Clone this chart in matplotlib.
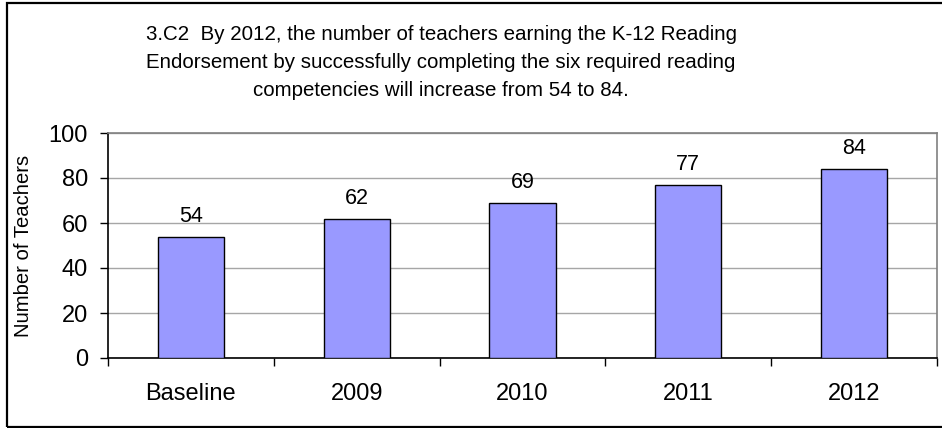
import matplotlib
matplotlib.use("Agg")
import matplotlib.pyplot as plt
from matplotlib.patches import Rectangle
from matplotlib.ticker import FixedLocator

categories = ["Baseline", "2009", "2010", "2011", "2012"]
teachers = [54, 62, 69, 77, 84]
y_ticks = [0, 20, 40, 60, 80, 100]
title_lines = [
    "3.C2  By 2012, the number of teachers earning the K-12 Reading",
    "Endorsement by successfully completing the six required reading",
    "competencies will increase from 54 to 84.",
]
y_label = "Number of Teachers"

plt.rcParams["font.family"] = ["Liberation Sans", "DejaVu Sans"]

W, H, DPI = 942, 428, 100
fig = plt.figure(figsize=(W / DPI, H / DPI), dpi=DPI)

# outer chart frame (its right edge runs past the canvas)
fig.patches.append(Rectangle((7 / W, 1 - 427 / H), 960 / W, (427 - 3) / H,
                             transform=fig.transFigure, fill=False,
                             edgecolor="black", linewidth=1.6, clip_on=False))

ax = fig.add_axes([108 / W, 1 - 358 / H, 829 / W, 225 / H])

x = list(range(len(categories)))
ax.bar(x, teachers, width=0.4, color="#9999FF", edgecolor="black",
       linewidth=1.0, zorder=3)

for xi, v in zip(x, teachers):
    ax.annotate(str(v), (xi, v), xytext=(0, 10.5), textcoords="offset points",
                ha="center", va="baseline", fontsize=15.5)

ax.set_xlim(-0.5, len(categories) - 0.5)
ax.set_ylim(0, 100)
ax.set_yticks(y_ticks)
ax.set_xticks(x)
ax.set_xticklabels(categories)
ax.xaxis.set_minor_locator(FixedLocator([i + 0.5 for i in range(-1, len(categories))]))
ax.tick_params(axis="x", which="major", length=0, pad=18, labelsize=17)
ax.tick_params(axis="x", which="minor", length=5.5, width=1, color="black", direction="out")
ax.tick_params(axis="y", which="major", length=5.8, width=1, pad=8.6, labelsize=17,
               direction="out")

ax.yaxis.grid(True, color="#A6A6A6", linewidth=1.0, zorder=0)
ax.set_axisbelow(True)

ax.spines["left"].set_color("black")
ax.spines["bottom"].set_color("black")
ax.spines["left"].set_linewidth(1.2)
ax.spines["bottom"].set_linewidth(1.2)
ax.spines["top"].set_color("#808080")
ax.spines["right"].set_color("#808080")
ax.spines["top"].set_linewidth(1.2)
ax.spines["right"].set_linewidth(1.2)

fig.text(24 / W, 1 - 245.5 / H, y_label, rotation=90, ha="center", va="center",
         fontsize=14.6)

for i, line in enumerate(title_lines):
    fig.text(441 / W, 1 - (35 + 27.5 * i) / H, line, ha="center", va="center",
             fontsize=14.8)

fig.savefig("out.png", dpi=DPI)
